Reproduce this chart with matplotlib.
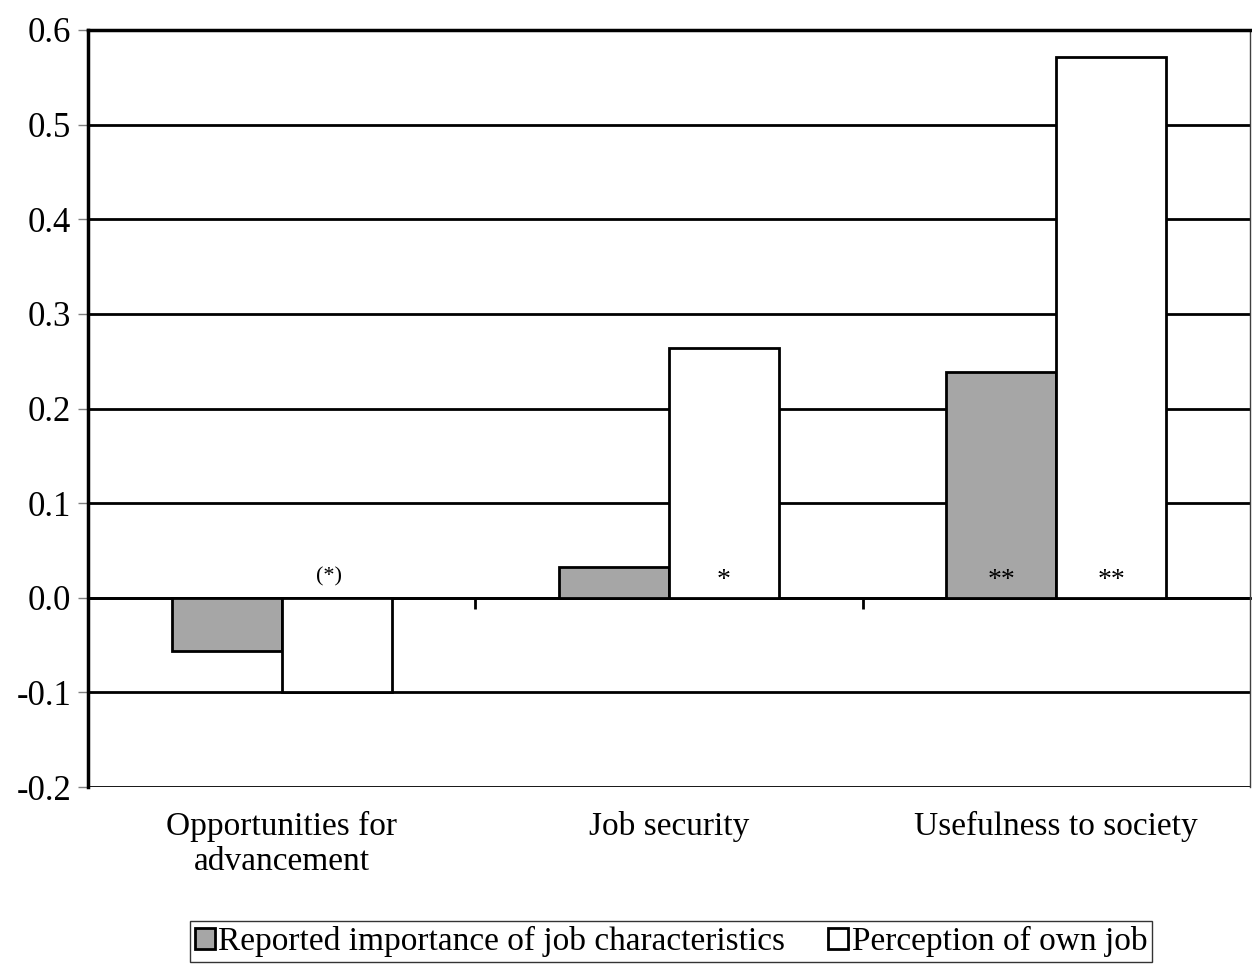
import numpy as np
import matplotlib as mpl
mpl.use('Agg')
from matplotlib import pyplot as plt
from matplotlib.transforms import blended_transform_factory

categories = ['Opportunities for\nadvancement', 'Job security', 'Usefulness to society']
importance = [-0.056, 0.032, 0.239]
perception = [-0.100, 0.264, 0.571]
stars_importance = ['', '', '**']
stars_perception = ['(*)', '*', '**']
series_names = ['Reported importance of job characteristics', 'Perception of own job']

plt.rcParams['font.family'] = ['Liberation Serif', 'DejaVu Serif']

fig = plt.figure(figsize=(12.52, 9.66), dpi=100)
ax = fig.add_axes([88/1252, 1-787/966, (1250-88)/1252, (787-30)/966])

x = np.arange(len(categories))
w = 0.284
ax.bar(x - w/2, importance, w, color='#a6a6a6', edgecolor='black', linewidth=2,
       label=series_names[0], zorder=3)
ax.bar(x + w/2, perception, w, color='white', edgecolor='black', linewidth=2,
       label=series_names[1], zorder=3)

for i in range(len(categories)):
    if stars_importance[i]:
        ax.text(x[i] - w/2, 0.018, stars_importance[i], ha='center', va='center',
                fontsize=20, zorder=4)
    if stars_perception[i] == '(*)':
        ax.text(x[i] + w/2 - 0.02, 0.022, stars_perception[i], ha='center', va='center',
                fontsize=16, zorder=4)
    elif stars_perception[i]:
        ax.text(x[i] + w/2, 0.018, stars_perception[i], ha='center', va='center',
                fontsize=20, zorder=4)

ax.set_xlim(-0.5, 2.5)
ax.set_ylim(-0.2, 0.6)
yt = np.round(np.arange(-0.2, 0.61, 0.1), 1)
ax.set_yticks(yt)
ax.set_yticklabels([f'{v:.1f}' for v in yt], fontsize=25)
ax.tick_params(axis='y', direction='out', length=7, width=1, color='#808080', pad=5)
ax.yaxis.grid(True, color='black', linewidth=2, zorder=1)
ax.set_axisbelow(True)

ax.spines['bottom'].set_position(('data', 0))
ax.spines['bottom'].set_linewidth(2)
ax.spines['bottom'].set_zorder(2)
ax.spines['left'].set_linewidth(2.5)
ax.spines['top'].set_linewidth(2.5)
ax.spines['right'].set_linewidth(1)
ax.spines['right'].set_color('#404040')
ax.set_xticks([0.5, 1.5])
ax.set_xticklabels(['', ''])
ax.tick_params(axis='x', direction='out', length=8, width=2, color='black')

tr = blended_transform_factory(ax.transData, ax.transAxes)
for i, c in enumerate(categories):
    ax.text(x[i], -0.032, c, transform=tr, ha='center', va='top', fontsize=24,
            linespacing=1.2)

fig.legend(loc='upper center', bbox_to_anchor=(671/1252, 1-921/966), ncol=2,
           fontsize=24, frameon=True, fancybox=False, edgecolor='black',
           handlelength=0.6, handleheight=0.6, handletextpad=0.1,
           columnspacing=1.3, borderpad=0.15, borderaxespad=0)

fig.savefig('out.png', dpi=100)
